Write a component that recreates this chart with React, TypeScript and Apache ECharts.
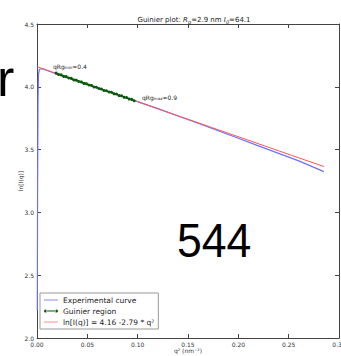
import React, { useEffect, useRef } from "react";
import * as echarts from "echarts";

const xTicks = [0, 0.05, 0.1, 0.15, 0.2, 0.25, 0.3];
const yTicks = [2.0, 2.5, 3.0, 3.5, 4.0, 4.5];

const expQ2 = [0.0003, 0.0006, 0.001, 0.0015, 0.0025, 0.005, 0.01, 0.02, 0.04, 0.06, 0.08, 0.1, 0.12, 0.14, 0.16, 0.18, 0.2, 0.22, 0.24, 0.26, 0.285];
const expLnI = [2.22, 3.2, 3.9, 4.1, 4.14, 4.145, 4.13, 4.1, 4.05, 3.99, 3.94, 3.882, 3.826, 3.768, 3.71, 3.65, 3.59, 3.53, 3.47, 3.41, 3.325];

const guinierQ2 = [0.019, 0.0215, 0.024, 0.0265, 0.029, 0.0315, 0.034, 0.0365, 0.039, 0.0415, 0.044, 0.0465, 0.049, 0.0515, 0.054, 0.0565, 0.059, 0.0615, 0.064, 0.0665, 0.069, 0.0715, 0.074, 0.0765, 0.079, 0.0815, 0.084, 0.0865, 0.089, 0.0915, 0.094, 0.0965];
const guinierLnI = [4.109, 4.098, 4.095, 4.083, 4.081, 4.07, 4.067, 4.055, 4.053, 4.042, 4.039, 4.027, 4.025, 4.014, 4.011, 3.999, 3.997, 3.986, 3.983, 3.971, 3.969, 3.958, 3.956, 3.944, 3.942, 3.93, 3.928, 3.916, 3.914, 3.902, 3.9, 3.889];

const fitQ2 = [0, 0.285];
const fitLnI = [4.16, 3.365];

const seriesNames = ["Experimental curve", "Guinier region", "ln[I(q)] = 4.16 -2.79 * q²"];

const lineIcon = "path://M0,2 L14,2 L14,3.2 L0,3.2 Z";
const dotLineIcon =
  "path://M0,2.6 A1.6,1.6 0 1,0 3.2,2.6 A1.6,1.6 0 1,0 0,2.6 Z M2,2 L12,2 L12,3.2 L2,3.2 Z M10.8,2.6 A1.6,1.6 0 1,0 14,2.6 A1.6,1.6 0 1,0 10.8,2.6 Z";

export default function App() {
  const ref = useRef<HTMLDivElement>(null);
  useEffect(() => {
    if (!ref.current) return;
    const chart = echarts.init(ref.current, null, { renderer: "svg" });
    const font = "DejaVu Sans";
    const axisCommon = {
      axisLine: { show: true, onZero: false, lineStyle: { color: "#444", width: 1 } },
      axisTick: { show: true, inside: true, length: 4, lineStyle: { color: "#444" } },
      splitLine: { show: false },
    };
    chart.setOption({
      animation: false,
      backgroundColor: "#fff",
      title: {
        text: "Guinier plot: {i|R}{s|g}=2.9 nm {i|I}{s|0}=64.1",
        left: 189,
        textAlign: "center",
        top: 11,
        textStyle: {
          fontSize: 7,
          fontWeight: "normal",
          color: "#222",
          fontFamily: font,
          rich: {
            i: { fontSize: 7, fontStyle: "italic", color: "#222", fontFamily: font },
            s: { fontSize: 5, fontStyle: "italic", color: "#222", fontFamily: font, verticalAlign: "bottom", padding: [3, 0, 0, 0] },
          },
        },
      },
      grid: { left: 37, top: 24, right: 2, bottom: 18, containLabel: false, outerBoundsMode: "none" },
      legend: {
        orient: "vertical",
        left: 40,
        top: 293,
        padding: [3, 4, 3, 4],
        itemGap: 3,
        itemWidth: 14,
        itemHeight: 5,
        backgroundColor: "#fff",
        borderColor: "#999",
        borderWidth: 1,
        borderRadius: 0,
        textStyle: { fontSize: 7.5, color: "#222", fontFamily: font },
        data: [
          { name: seriesNames[0], icon: lineIcon, itemStyle: { color: "#9b9bff" } },
          { name: seriesNames[1], icon: dotLineIcon, itemStyle: { color: "#0a5a0a" } },
          { name: seriesNames[2], icon: lineIcon, itemStyle: { color: "#ffa0a0" } },
        ],
      },
      xAxis: [
        {
          type: "value",
          min: 0,
          max: 0.3,
          interval: 0.05,
          ...axisCommon,
          axisLabel: { fontSize: 6, color: "#333", fontFamily: font, margin: 3, formatter: (v: number) => v.toFixed(2) },
          name: "q² (nm⁻²)",
          nameLocation: "middle",
          nameGap: 9,
          nameMoveOverlap: false,
          nameTextStyle: { fontSize: 6, color: "#333", fontFamily: font },
        },
        {
          type: "value",
          position: "top",
          min: 0,
          max: 0.3,
          interval: 0.05,
          ...axisCommon,
          axisLabel: { show: false },
        },
      ],
      yAxis: [
        {
          type: "value",
          min: 2.0,
          max: 4.5,
          interval: 0.5,
          ...axisCommon,
          axisLabel: { fontSize: 6, color: "#333", fontFamily: font, margin: 3, formatter: (v: number) => v.toFixed(1) },
          name: "ln[I(q)]",
          nameLocation: "middle",
          nameGap: 14,
          nameMoveOverlap: false,
          nameRotate: 90,
          nameTextStyle: { fontSize: 6, color: "#333", fontFamily: font },
        },
        {
          type: "value",
          position: "right",
          min: 2.0,
          max: 4.5,
          interval: 0.5,
          ...axisCommon,
          axisLabel: { show: false },
        },
      ],
      series: [
        {
          name: seriesNames[0],
          type: "line",
          data: expQ2.map((q, i) => [q, expLnI[i]]),
          showSymbol: false,
          symbol: "none",
          lineStyle: { color: "#6f6fff", width: 1.2 },
          itemStyle: { color: "#9b9bff" },
          z: 2,
        },
        {
          name: seriesNames[1],
          type: "line",
          data: guinierQ2.map((q, i) => [q, guinierLnI[i]]),
          symbol: "circle",
          symbolSize: 3,
          lineStyle: { color: "#0a5a0a", width: 1.2 },
          itemStyle: { color: "#0a5a0a" },
          z: 4,
        },
        {
          name: seriesNames[2],
          type: "line",
          data: fitQ2.map((q, i) => [q, fitLnI[i]]),
          symbol: "none",
          lineStyle: { color: "#ff5555", width: 1 },
          itemStyle: { color: "#ffa0a0" },
          z: 3,
        },
      ],
      graphic: [
        {
          type: "text",
          left: 53,
          top: 63,
          style: {
            text: "qRg{s|min}=0.4",
            fontSize: 6,
            fill: "#222",
            fontFamily: font,
            rich: { s: { fontSize: 4, fill: "#222", fontFamily: font, padding: [3, 0, 0, 0] } },
          },
        },
        {
          type: "text",
          left: 142,
          top: 94,
          style: {
            text: "qRg{s|max}=0.9",
            fontSize: 6,
            fill: "#222",
            fontFamily: font,
            rich: { s: { fontSize: 4, fill: "#222", fontFamily: font, padding: [3, 0, 0, 0] } },
          },
        },
        {
          type: "text",
          x: 177,
          y: 216,
          scaleX: 0.91,
          style: { text: "544", fontSize: 49, fill: "#000", fontFamily: "Liberation Sans" },
        },
        {
          type: "text",
          left: -3,
          top: 52,
          style: { text: "r", fontSize: 52, fill: "#000", fontFamily: "Liberation Sans" },
        },
      ],
    });
    return () => chart.dispose();
  }, []);
  return (
    <div
      ref={ref}
      style={{ position: "fixed", left: 0, top: 0, width: 341, height: 356 }}
    />
  );
}
